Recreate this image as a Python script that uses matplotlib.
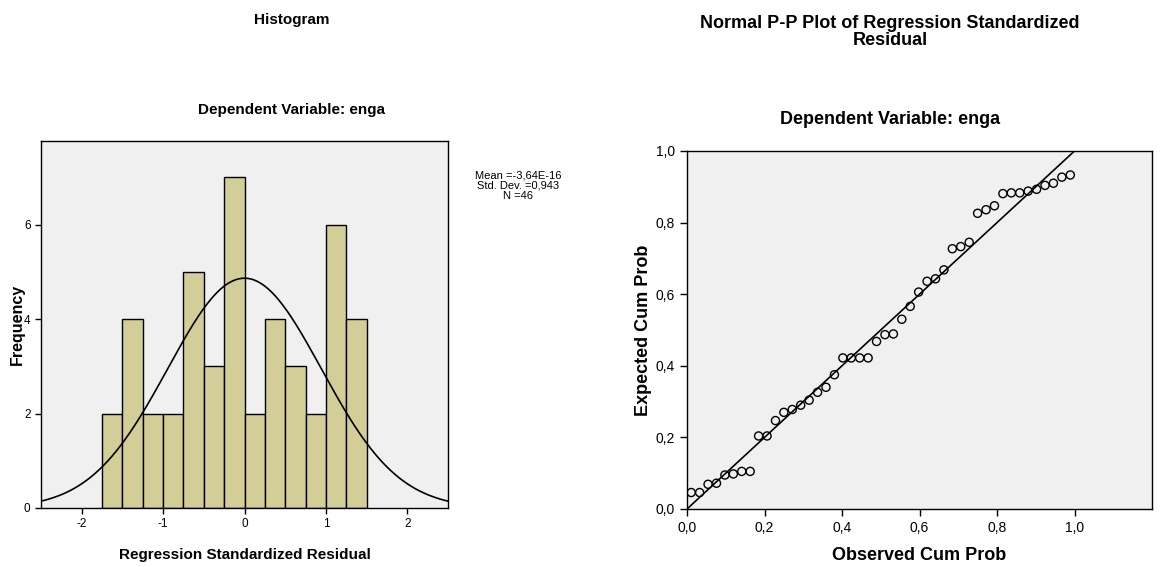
import numpy as np
import matplotlib
matplotlib.use("Agg")
from matplotlib import pyplot as plt

# histogram data (bin edges and counts)
bin_edges = [-1.75, -1.5, -1.25, -1.0, -0.75, -0.5, -0.25, 0.0, 0.25, 0.5, 0.75, 1.0, 1.25, 1.5]
counts = [2, 4, 2, 2, 5, 3, 7, 2, 4, 3, 2, 6, 4]
mean_val = 0.0
std_val = 0.943
n_obs = 46

# P-P plot data
observed = [(i - 0.5) / n_obs for i in range(1, n_obs + 1)]
expected = [0.046, 0.046, 0.069, 0.072, 0.095, 0.098, 0.105, 0.105, 0.204, 0.204,
            0.247, 0.270, 0.278, 0.290, 0.304, 0.326, 0.340, 0.375, 0.422, 0.422,
            0.422, 0.422, 0.468, 0.487, 0.489, 0.530, 0.566, 0.606, 0.636, 0.643,
            0.668, 0.727, 0.733, 0.745, 0.826, 0.836, 0.847, 0.881, 0.883, 0.883,
            0.888, 0.893, 0.904, 0.910, 0.927, 0.933]

plt.rcParams['font.family'] = ['Liberation Sans', 'DejaVu Sans']
plt.rcParams['axes.unicode_minus'] = False
narrow = ['Liberation Sans Narrow', 'Liberation Sans', 'DejaVu Sans']

W, H = 1167, 567
fig = plt.figure(figsize=(W / 100, H / 100), dpi=100)

def box(l, t, r, b):
    return [l / W, 1 - b / H, (r - l) / W, (b - t) / H]

# ---- histogram ----
ax1 = fig.add_axes(box(41, 141, 448, 508))
ax1.set_facecolor('#f0f0f0')
widths = np.diff(bin_edges)
ax1.bar(bin_edges[:-1], counts, width=widths, align='edge', color='#d3ce97',
        edgecolor='black', linewidth=1.0)
xs = np.linspace(-2.5, 2.5, 400)
scale = n_obs * 0.25
ys = scale / (std_val * np.sqrt(2 * np.pi)) * np.exp(-0.5 * ((xs - mean_val) / std_val) ** 2)
ax1.plot(xs, ys, color='black', linewidth=1.2)
ax1.set_xlim(-2.5, 2.5)
ax1.set_ylim(0, 7.77)
ax1.set_xticks([-2, -1, 0, 1, 2])
ax1.set_yticks([0, 2, 4, 6])
ax1.tick_params(direction='out', length=4, width=1, labelsize=8.5)
for lab in ax1.get_xticklabels() + ax1.get_yticklabels():
    lab.set_family(narrow)
for s in ax1.spines.values():
    s.set_linewidth(1.0)
ax1.set_ylabel('Frequency', fontsize=11.5, fontweight='bold')
ax1.yaxis.set_label_coords((25 - 41) / 407, 0.5)
ax1.set_xlabel('Regression Standardized Residual', fontsize=11, fontweight='bold',
               family=narrow)
ax1.xaxis.set_label_coords(0.5, -(548 - 508) / 367)
fig.text(292 / W, 1 - 20 / H, 'Histogram', ha='center', va='center',
         fontsize=11, fontweight='bold', family=narrow)
fig.text(292 / W, 1 - 110 / H, 'Dependent Variable: enga', ha='center', va='center',
         fontsize=11, fontweight='bold', family=narrow)
fig.text(518 / W, 1 - 186 / H, 'Mean =-3,64E-16\nStd. Dev. =0,943\nN =46',
         ha='center', va='center', fontsize=8, family=narrow, linespacing=1.0)

# ---- P-P plot ----
ax2 = fig.add_axes(box(687, 151, 1152, 509))
ax2.set_facecolor('#f0f0f0')
ax2.plot([0, 1], [0, 1], color='black', linewidth=1.2)
ax2.scatter(observed, expected, s=34, facecolors='none', edgecolors='black',
            linewidths=1.0, zorder=3)
ax2.set_xlim(0, 1.2)
ax2.set_ylim(0, 1.0)
ax2.set_xticks([0, 0.2, 0.4, 0.6, 0.8, 1.0])
ax2.set_yticks([0, 0.2, 0.4, 0.6, 0.8, 1.0])
ax2.set_xticklabels(['0,0', '0,2', '0,4', '0,6', '0,8', '1,0'])
ax2.set_yticklabels(['0,0', '0,2', '0,4', '0,6', '0,8', '1,0'])
ax2.tick_params(direction='out', length=5, width=1, labelsize=10)
for s in ax2.spines.values():
    s.set_linewidth(1.0)
ax2.set_ylabel('Expected Cum Prob', fontsize=13, fontweight='bold')
ax2.yaxis.set_label_coords((652 - 687) / 465, 0.5)
ax2.set_xlabel('Observed Cum Prob', fontsize=13, fontweight='bold')
ax2.xaxis.set_label_coords(0.5, -(547 - 509) / 358)
fig.text(890 / W, 1 - 32 / H, 'Normal P-P Plot of Regression Standardized\nResidual',
         ha='center', va='center', fontsize=13, fontweight='bold', linespacing=0.95)
fig.text(890 / W, 1 - 120 / H, 'Dependent Variable: enga', ha='center', va='center',
         fontsize=13, fontweight='bold')

fig.savefig('out.png', dpi=100)
